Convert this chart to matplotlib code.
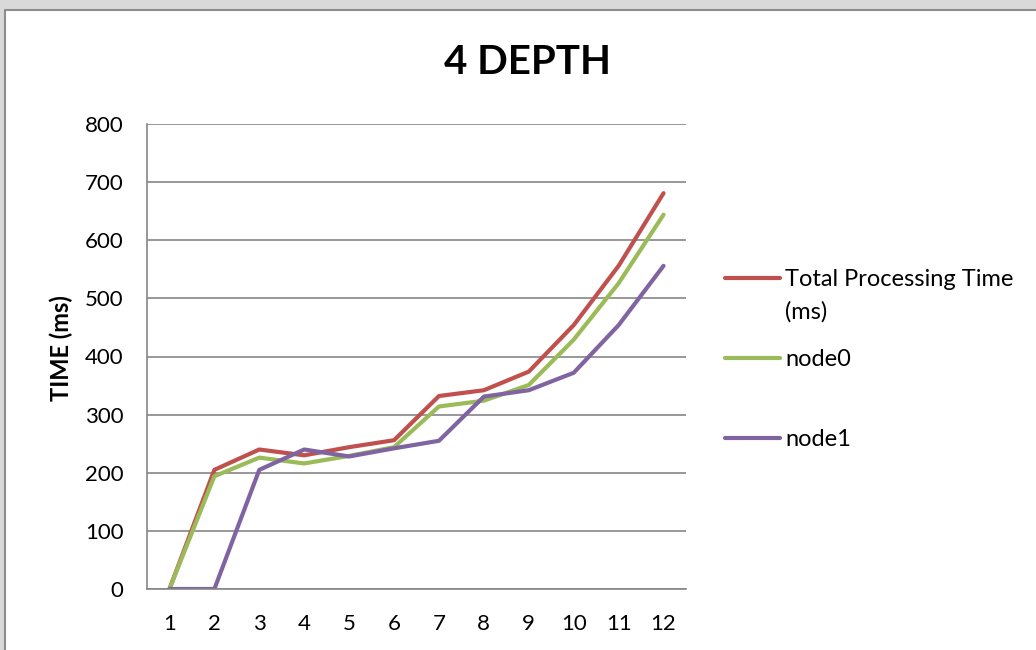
import matplotlib.pyplot as plt
from matplotlib.patches import Rectangle
from matplotlib.lines import Line2D
import numpy as np

runs = [1, 2, 3, 4, 5, 6, 7, 8, 9, 10, 11, 12]
total_time = [0, 205, 240, 230, 244, 256, 332, 342, 374, 454, 556, 681]
node0 = [0, 194, 226, 216, 229, 244, 314, 324, 351, 429, 526, 644]
node1 = [0, 0, 205, 240, 228, 242, 255, 331, 342, 372, 454, 556]

series_names = ["Total Processing Time", "node0", "node1"]
colors = ["#C0504D", "#9BBB59", "#8064A2"]

plt.rcParams['font.family'] = ['Lato', 'DejaVu Sans']

fig = plt.figure(figsize=(10.36, 6.5), dpi=100)
fig.patch.set_facecolor("#d9d9d9")

# white chart area, border only on top and left (rest runs off the picture)
left_edge = 5 / 1036
top_edge = 1 - 10 / 650
fig.patches.append(Rectangle((left_edge, 0), 1 - left_edge, top_edge,
                             transform=fig.transFigure, facecolor="white",
                             edgecolor="none", zorder=-5))
fig.add_artist(Line2D([left_edge, left_edge, 1], [0, top_edge, top_edge],
                      transform=fig.transFigure, color="#8c8c8c", linewidth=1.5))

ax = fig.add_axes([147 / 1036, 1 - 589 / 650, 539 / 1036, 465 / 650])
ax.set_facecolor("none")

x = np.array(runs)
for vals, name, c in zip([total_time, node0, node1], series_names, colors):
    ax.plot(x, vals, color=c, linewidth=3, label=name, solid_capstyle="round")

ax.set_xlim(0.5, 12.5)
ax.set_ylim(0, 800)
ax.set_yticks(range(0, 801, 100))
ax.set_xticks(runs)
ax.grid(axis="y", color="#868686", linewidth=1.2)
ax.set_axisbelow(True)
for s in ["top", "right"]:
    ax.spines[s].set_visible(False)
for s in ["left", "bottom"]:
    ax.spines[s].set_color("#868686")
    ax.spines[s].set_linewidth(1.2)
ax.tick_params(axis="y", length=0, labelsize=16, pad=17)
ax.tick_params(axis="x", length=0, labelsize=16, pad=18)

ax.set_ylabel("TIME (ms)", fontsize=17, fontweight="bold")
ax.yaxis.set_label_coords(-0.137, 0.518)
fig.text(527 / 1036, 1 - 62 / 650, "4 DEPTH", fontsize=29, fontweight="bold",
         ha="center", va="center")

leg = ax.legend(loc="upper left", bbox_to_anchor=(725 / 1036, 1 - 269 / 650),
                bbox_transform=fig.transFigure, frameon=False,
                fontsize=17, handlelength=2.35, handletextpad=0.2,
                labelspacing=2.5, borderpad=0, borderaxespad=0)
fig.text(785 / 1036, 1 - 312 / 650, "(ms)", fontsize=17, ha="left", va="center")

fig.savefig("out.png", dpi=100, facecolor=fig.get_facecolor())
